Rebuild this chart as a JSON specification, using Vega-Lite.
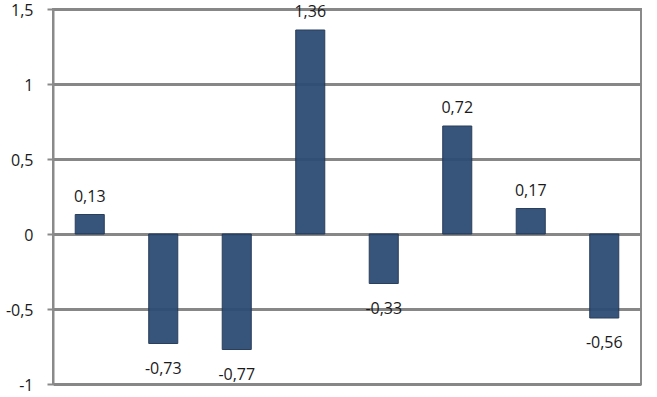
{
  "$schema": "https://vega.github.io/schema/vega-lite/v6.json",
  "autosize": "none",
  "width": 588,
  "height": 375,
  "padding": {"left": 53, "top": 9, "right": 16, "bottom": 13},
  "background": "white",
  "config": {
    "locale": {"number": {"decimal": ",", "thousands": ".", "grouping": [3], "currency": ["", " €"], "minus": "-"}},
    "view": {"stroke": "#8a8a8a", "strokeWidth": 2},
    "font": "Open Sans"
  },
  "data": {
    "values": [
      {"cat": "1", "v": 0.13},
      {"cat": "2", "v": -0.73},
      {"cat": "3", "v": -0.77},
      {"cat": "4", "v": 1.36},
      {"cat": "5", "v": -0.33},
      {"cat": "6", "v": 0.72},
      {"cat": "7", "v": 0.17},
      {"cat": "8", "v": -0.56}
    ]
  },
  "encoding": {
    "x": {"field": "cat", "type": "nominal", "sort": null, "axis": null,
          "scale": {"paddingInner": 0.605, "paddingOuter": 0.3025}},
    "y": {"field": "v", "type": "quantitative",
          "scale": {"domain": [-1, 1.5], "nice": false, "zero": false},
          "axis": {"title": null, "values": [-1, -0.5, 0, 0.5, 1, 1.5], "format": "~g",
                   "grid": true, "gridColor": "#878787", "gridWidth": 3, "gridOpacity": 1,
                   "domain": true, "domainColor": "#8a8a8a", "domainWidth": 2,
                   "ticks": true, "tickSize": 6, "tickColor": "#8a8a8a", "tickWidth": 2,
                   "labelPadding": 14, "labelFontSize": 16, "labelColor": "#1a1a1a",
                   "labelFont": "Open Sans", "labelBound": false,
                   "labelBaseline": "alphabetic", "labelOffset": 6}}
  },
  "layer": [
    {"mark": {"type": "bar", "color": "#2d4b73", "stroke": "#1f3554", "strokeWidth": 1, "opacity": 0.95}},
    {"transform": [{"filter": "datum.v >= 0"}],
     "mark": {"type": "text", "baseline": "alphabetic", "dy": -13, "fontSize": 16, "color": "#1a1a1a", "font": "Open Sans"},
     "encoding": {"text": {"field": "v", "type": "quantitative", "format": ".2f"}}},
    {"transform": [{"filter": "datum.v < 0"}],
     "mark": {"type": "text", "baseline": "alphabetic", "dy": 30, "fontSize": 16, "color": "#1a1a1a", "font": "Open Sans"},
     "encoding": {"text": {"field": "v", "type": "quantitative", "format": ".2f"}}}
  ]
}
